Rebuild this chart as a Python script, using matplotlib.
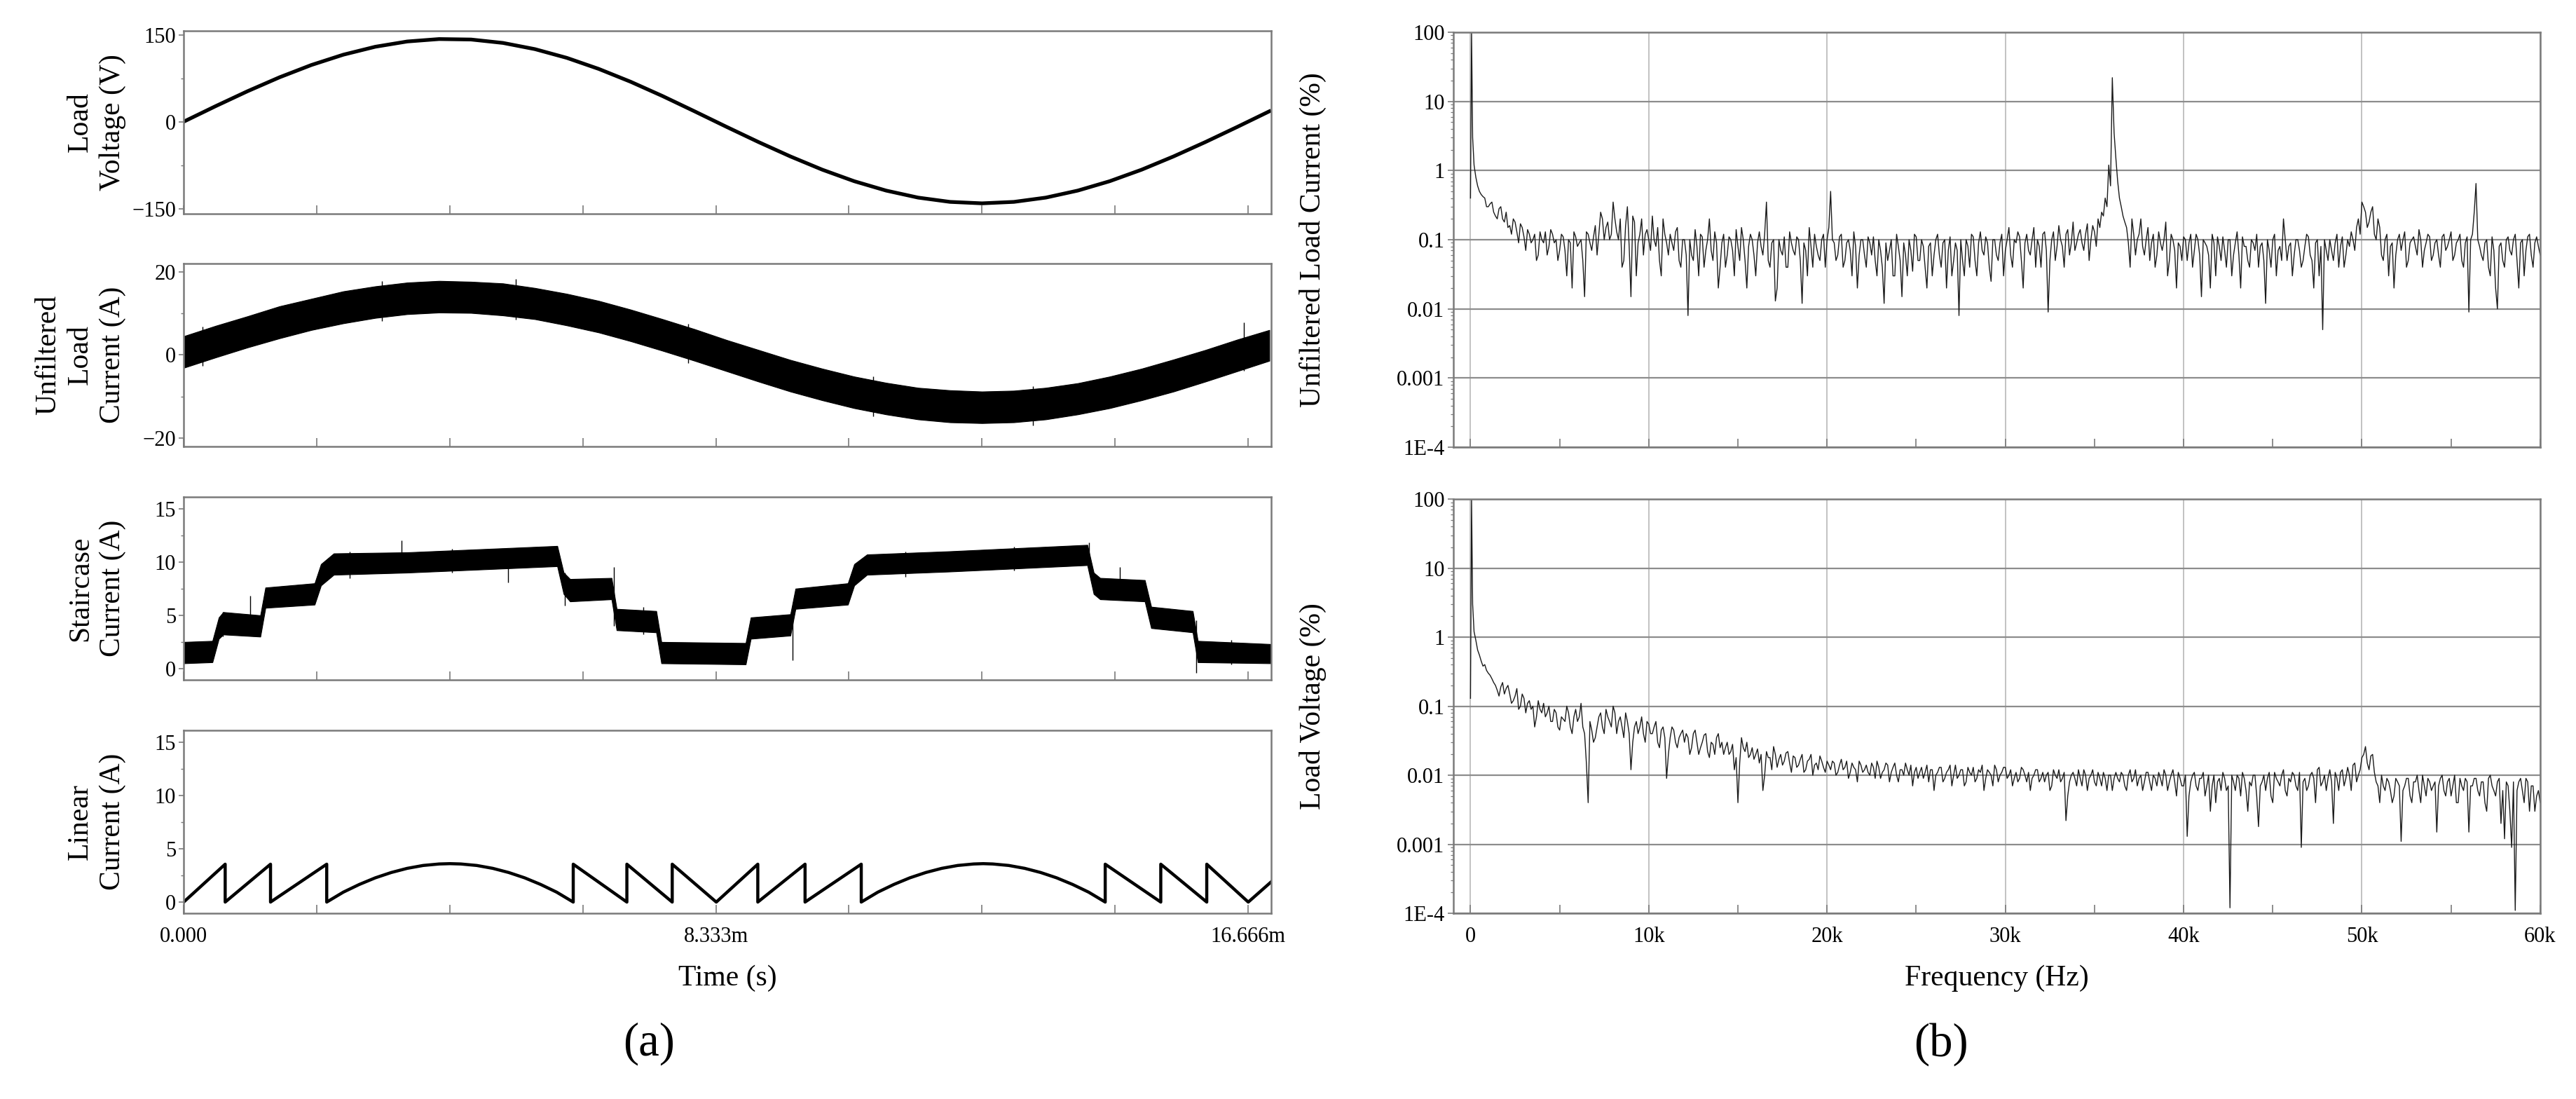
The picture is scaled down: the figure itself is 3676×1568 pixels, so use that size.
import numpy as np
import matplotlib
matplotlib.use("Agg")
import matplotlib.pyplot as plt
from matplotlib.ticker import FixedLocator, NullFormatter, FixedFormatter, LogLocator, MultipleLocator

plt.rcParams['font.family'] = ['Liberation Serif', 'DejaVu Serif']

# ---------------- time-domain data (ms) ----------------
t_wave = np.arange(0, 17.01, 0.5)
load_voltage = [0, 26.8, 52.6, 76.6, 97.9, 115.7, 129.4, 138.5, 142.7, 141.9, 136.0, 125.3,
                110.2, 91.1, 68.9, 44.2, 17.9, -8.9, -35.1, -60.0, -82.9, -102.8, -119.0,
                -131.1, -138.5, -141.0, -138.5, -131.1, -119.0, -102.8, -82.9, -60.0, -35.1,
                -8.9, 17.9]
unf_current_hi = [4.5, 7.0, 9.3, 11.7, 13.5, 15.3, 16.5, 17.4, 17.8, 17.6, 17.2, 16.1, 14.7,
                  13.0, 10.9, 8.6, 6.2, 3.6, 1.2, -1.2, -3.3, -5.2, -6.7, -7.9, -8.5, -8.8,
                  -8.6, -7.9, -6.8, -5.2, -3.3, -1.1, 1.2, 3.7, 6.0]
unf_current_lo = [-3.1, -0.6, 1.8, 4.0, 6.0, 7.6, 8.9, 9.8, 10.2, 10.1, 9.5, 8.6, 7.1, 5.4,
                  3.3, 1.0, -1.4, -3.9, -6.4, -8.8, -10.9, -12.8, -14.3, -15.5, -16.2, -16.4,
                  -16.2, -15.5, -14.3, -12.8, -10.9, -8.8, -6.4, -3.9, -1.4]
unf_spike_t = [0.3, 3.1, 5.2, 7.9, 10.8, 13.3, 16.6]
unf_spike_lo = [-2.6, 8.2, 8.5, -2.0, -14.8, -16.9, -3.8]
unf_spike_hi = [6.8, 17.8, 18.2, 7.5, -5.2, -7.5, 7.8]

t_stair = [0, 0.45, 0.55, 0.62, 1.20, 1.28, 2.05, 2.15, 2.35, 3.50, 5.85, 5.95, 6.05, 6.70,
           6.78, 7.40, 7.48, 8.80, 8.88, 9.50, 9.58, 10.40, 10.50, 10.70, 12.00, 14.15, 14.25,
           14.35, 15.05, 15.15, 15.80, 15.88, 17.03]
stair_hi = [2.5, 2.6, 4.8, 5.3, 5.0, 7.6, 8.0, 9.8, 10.8, 10.9, 11.5, 9.0, 8.4, 8.5, 5.6, 5.4,
            2.5, 2.4, 4.8, 5.1, 7.5, 8.0, 9.8, 10.7, 11.0, 11.6, 9.0, 8.5, 8.3, 5.8, 5.4, 2.6, 2.3]
stair_lo = [0.5, 0.6, 2.8, 3.2, 3.0, 5.7, 6.0, 7.8, 8.8, 9.0, 9.6, 7.0, 6.3, 6.5, 3.6, 3.4,
            0.5, 0.4, 2.8, 3.1, 5.6, 6.0, 7.8, 8.8, 9.1, 9.7, 7.0, 6.5, 6.3, 3.8, 3.4, 0.6, 0.5]
spike_t = [0.61, 1.04, 2.6, 3.41, 4.2, 5.08, 5.97, 6.74, 7.2, 9.53, 11.3, 13.0, 14.18, 14.66, 15.86, 16.4]
spike_lo = [3.0, 3.2, 8.5, 9.0, 9.0, 8.1, 5.9, 4.0, 3.2, 0.8, 8.6, 9.2, 9.5, 6.5, -0.4, 0.4]
spike_hi = [5.3, 6.8, 11.0, 12.0, 11.2, 11.0, 9.0, 9.5, 5.8, 4.5, 11.0, 11.4, 11.8, 9.5, 4.5, 2.7]

t_linear = [0, 0.65, 0.65, 1.36, 1.36, 2.24, 2.24,
            2.50, 2.75, 3.00, 3.25, 3.50, 3.75, 4.00, 4.17, 4.34, 4.59, 4.84, 5.09, 5.34, 5.59, 5.84,
            6.10, 6.10, 6.94, 6.94, 7.65, 7.65, 8.34,
            8.99, 8.99, 9.73, 9.73, 10.61, 10.61,
            10.87, 11.12, 11.37, 11.62, 11.87, 12.12, 12.37, 12.52, 12.67, 12.92, 13.17, 13.42, 13.67, 13.92, 14.17,
            14.43, 14.43, 15.30, 15.30, 16.02, 16.02, 16.67, 17.03]
linear_current = [0, 3.55, 0, 3.55, 0, 3.55, 0,
                  0.93, 1.65, 2.27, 2.77, 3.16, 3.43, 3.57, 3.6, 3.57, 3.43, 3.16, 2.77, 2.27, 1.65, 0.93,
                  0, 3.55, 0, 3.55, 0, 3.55, 0,
                  3.55, 0, 3.55, 0, 3.55, 0,
                  0.93, 1.65, 2.27, 2.77, 3.16, 3.43, 3.57, 3.6, 3.57, 3.43, 3.16, 2.77, 2.27, 1.65, 0.93,
                  0, 3.55, 0, 3.55, 0, 3.55, 0, 1.9]

time_tick_labels = ['0.000', '', '', '', '8.333m', '', '', '', '16.666m']

# ---------------- spectra (% of fundamental) ----------------
freq_a = np.concatenate([[0, 60, 120], np.arange(200, 60001, 200)])
freq_b = np.arange(300, 60000, 200)
spec_current_a = [0.4, 100, 3.0,
    1.2, .6, .45, .4, .3, .35, .22, .28, .2, .25,
    .16, .2, .13, .17, .11, .14, .09, .12, .06, .1,
    .13, .08, .12, .1, .07, .11, .03, .09, .13, .08,
    .1, .015, .12, .07, .16, .12, .2, .15, .1, .35,
    .13, .2, .05, .3, .015, .18, .09, .2, .12, .1,
    .22, .08, .05, .2, .09, .12, .07, .15, .04, .1,
    .008, .06, .14, .03, .11, .07, .2, .05, .09, .04,
    .12, .06, .1, .03, .08, .15, .05, .08, .1, .03,
    .13, .06, .35, .04, .1, .02, .07, .11, .04, .09,
    .06, .1, .012, .07, .15, .04, .08, .05, .12, .1,
    .5, .09, .06, .12, .05, .1, .03, .08, .06, .1,
    .04, .09, .11, .03, .07, .012, .05, .1, .03, .08,
    .015, .06, .1, .035, .11, .05, .08, .02, .09, .06,
    .12, .04, .1, .07, .03, .09, .008, .05, .1, .04,
    .11, .03, .13, .06, .09, .025, .1, .05, .12, .07,
    .15, .04, .09, .11, .02, .12, .06, .15, .1, .04,
    .13, .009, .1, .05, .16, .08, .12, .06, .18, .09,
    .14, .07, .17, .1, .13, .2, .25, .4, 1.2, 22,
    1.5, .4, .22, .15, .04, .12, .1, .2, .06, .15,
    .09, .04, .13, .07, .18, .05, .1, .02, .08, .11,
    .05, .12, .07, .1, .015, .09, .06, .12, .03, .08,
    .11, .04, .1, .06, .13, .02, .08, .05, .1, .07,
    .04, .09, .012, .07, .1, .03, .08, .2, .05, .09,
    .06, .1, .04, .08, .11, .05, .09, .03, .005, .07,
    .1, .05, .12, .08, .04, .1, .13, .07, .2, .35,
    .25, .18, .3, .1, .15, .05, .12, .08, .02, .1,
    .07, .13, .05, .1, .08, .14, .04, .09, .11, .06,
    .1, .04, .12, .08, .13, .06, .1, .05, .09, .009,
    .12, .65, .08, .05, .1, .03, .07, .01, .09, .04,
    .11, .06, .12, .02, .1, .07, .12, .04, .11, .06]
spec_current_b = [
    .8, .5, .42, .3, .33, .25, .2, .3, .18, .15,
    .12, .18, .09, .15, .07, .12, .1, .05, .13, .09,
    .06, .14, .09, .05, .12, .07, .1, .02, .11, .09,
    .05, .13, .09, .11, .06, .25, .1, .18, .12, .2,
    .1, .04, .16, .08, .22, .03, .12, .06, .14, .07,
    .1, .15, .03, .12, .06, .09, .13, .05, .1, .06,
    .1, .05, .08, .12, .04, .1, .07, .13, .02, .09,
    .04, .11, .07, .14, .05, .1, .02, .12, .06, .09,
    .08, .12, .05, .09, .013, .1, .06, .04, .13, .07,
    .11, .05, .09, .03, .08, .12, .06, .1, .04, .15,
    .1, .05, .11, .04, .09, .07, .13, .02, .1, .06,
    .11, .06, .05, .1, .04, .09, .07, .03, .12, .05,
    .09, .03, .07, .12, .05, .1, .04, .08, .03, .1,
    .06, .09, .02, .11, .05, .07, .1, .03, .08, .12,
    .05, .09, .07, .11, .04, .1, .06, .09, .03, .1,
    .06, .1, .13, .05, .09, .07, .1, .04, .08, .12,
    .07, .05, .13, .08, .1, .04, .14, .09, .07, .12,
    .09, .12, .05, .16, .08, .15, .22, .3, .6, 3.5,
    .7, .3, .18, .09, .2, .06, .12, .08, .1, .05,
    .12, .06, .09, .1, .03, .12, .07, .09, .05, .1,
    .09, .04, .12, .06, .1, .08, .02, .09, .11, .05,
    .07, .1, .03, .09, .06, .11, .08, .04, .09, .12,
    .08, .05, .1, .04, .12, .07, .05, .1, .08, .03,
    .1, .07, .05, .12, .06, .02, .1, .08, .1, .05,
    .07, .09, .04, .11, .06, .08, .1, .15, .12, .3,
    .15, .25, .12, .2, .06, .1, .03, .09, .06, .12,
    .1, .04, .09, .11, .06, .1, .07, .12, .05, .09,
    .06, .11, .07, .1, .05, .09, .12, .04, .11, .1,
    .25, .1, .06, .09, .04, .11, .02, .08, .05, .1,
    .07, .1, .05, .09, .03, .11, .06, .09, .08]
spec_voltage_a = [0.13, 100, 3.0,
    1.2, .65, .45, .4, .3, .25, .2, .14, .22, .18,
    .15, .12, .18, .1, .13, .11, .09, .05, .12, .08,
    .07, .1, .06, .08, .045, .065, .1, .05, .07, .06,
    .11, .04, .004, .045, .035, .07, .05, .09, .06, .1,
    .04, .07, .035, .06, .012, .05, .04, .07, .03, .055,
    .04, .06, .025, .05, .009, .035, .045, .025, .04, .03,
    .035, .025, .045, .02, .03, .04, .018, .028, .035, .025,
    .02, .03, .022, .012, .004, .035, .022, .018, .025, .02,
    .015, .006, .022, .018, .026, .013, .02, .016, .022, .011,
    .018, .014, .02, .012, .017, .01, .015, .019, .013, .016,
    .012, .015, .011, .017, .013, .009, .015, .012, .016, .011,
    .014, .01, .013, .016, .009, .012, .014, .011, .015, .008,
    .012, .015, .01, .007, .013, .011, .009, .014, .012, .006,
    .011, .013, .009, .012, .007, .014, .01, .012, .008, .011,
    .013, .009, .011, .006, .012, .01, .014, .008, .011, .013,
    .01, .007, .011, .009, .012, .008, .006, .01, .012, .009,
    .008, .011, .007, .01, .012, .009, .0022, .008, .011, .007,
    .009, .012, .006, .01, .008, .011, .007, .009, .01, .006,
    .011, .008, .01, .006, .012, .009, .007, .01, .008, .011,
    .006, .009, .011, .007, .01, .008, .012, .005, .009, .007,
    .0013, .008, .011, .006, .009, .005, .01, .007, .004, .009,
    .011, .006, .00012, .008, .01, .005, .009, .003, .007, .01,
    .0018, .008, .006, .011, .004, .009, .007, .012, .005, .008,
    .01, .006, .0009, .009, .007, .011, .004, .013, .008, .006,
    .012, .002, .009, .011, .007, .013, .006, .015, .01, .018,
    .026, .012, .02, .008, .004, .007, .009, .006, .005, .008,
    .0011, .007, .009, .004, .008, .006, .01, .005, .008, .007,
    .0015, .009, .006, .008, .005, .01, .004, .007, .009, .0015,
    .007, .009, .005, .008, .003, .01, .006, .008, .002, .0012,
    .007, .0009, .00011, .008, .006, .009, .003, .007, .005, .004]
spec_voltage_b = [
    .9, .55, .38, .33, .28, .22, .17, .19, .15, .2,
    .11, .14, .09, .15, .08, .12, .1, .07, .09, .11,
    .08, .06, .09, .05, .07, .06, .08, .04, .09, .07,
    .05, .015, .06, .03, .05, .08, .04, .07, .05, .08,
    .06, .05, .08, .04, .03, .06, .05, .04, .06, .04,
    .05, .03, .045, .035, .02, .05, .03, .035, .045, .04,
    .02, .04, .03, .025, .038, .022, .03, .02, .04, .03,
    .025, .02, .028, .018, .015, .025, .03, .02, .017, .024,
    .02, .01, .018, .012, .02, .017, .014, .021, .015, .019,
    .013, .017, .011, .016, .02, .014, .012, .016, .011, .014,
    .016, .01, .014, .012, .016, .011, .013, .008, .014, .012,
    .011, .015, .009, .013, .011, .015, .008, .013, .01, .012,
    .01, .012, .014, .011, .009, .013, .011, .008, .012, .01,
    .013, .008, .011, .014, .01, .009, .012, .007, .013, .01,
    .008, .012, .014, .009, .011, .007, .012, .01, .013, .009,
    .012, .009, .008, .013, .01, .011, .009, .012, .008, .011,
    .01, .006, .012, .009, .008, .011, .005, .01, .009, .012,
    .007, .01, .009, .012, .007, .009, .011, .006, .01, .009,
    .009, .011, .007, .01, .008, .012, .009, .006, .011, .008,
    .01, .007, .009, .012, .006, .01, .008, .011, .007, .01,
    .005, .01, .007, .009, .011, .007, .003, .01, .008, .006,
    .009, .007, .01, .006, .009, .011, .006, .008, .01, .005,
    .007, .01, .009, .005, .011, .008, .01, .006, .009, .011,
    .007, .011, .008, .006, .01, .009, .012, .007, .01, .009,
    .008, .011, .006, .012, .009, .01, .014, .008, .012, .02,
    .015, .019, .011, .007, .01, .006, .008, .004, .009, .007,
    .006, .009, .005, .008, .01, .004, .007, .009, .006, .008,
    .007, .01, .005, .009, .007, .004, .009, .006, .008, .007,
    .009, .006, .008, .004, .009, .007, .005, .009, .006, .008,
    .003, .008, .006, .009, .004, .008, .007, .003, .006]

freq_ticks = [0, 10000, 20000, 30000, 40000, 50000, 60000]
freq_labels = ['0', '10k', '20k', '30k', '40k', '50k', '60k']
log_ticks = [1e-4, 1e-3, 1e-2, 1e-1, 1, 10, 100]
log_labels = ['1E-4', '0.001', '0.01', '0.1', '1', '10', '100']

# ---------------- figure ----------------
W, H = 3676, 1568
fig = plt.figure(figsize=(W / 100, H / 100), dpi=100)

SPINE = '#7a7a7a'
TICK_FS = 22
LAB_FS = 30

def style_spines(ax):
    for s in ax.spines.values():
        s.set_color(SPINE)
        s.set_linewidth(1.8)

left_x, left_w, ph = 0.0713, 0.4222, 0.1665
bottoms = [0.8055, 0.5938, 0.3814, 0.169]
ylims = [(-159, 157), (-22, 22), (-1.05, 16.1), (-1.05, 16.1)]
ymaj = [[-150, 0, 150], [-20, 0, 20], [0, 5, 10, 15], [0, 5, 10, 15]]
ymin_t = [[-75, 75], [-10, 10], [2.5, 7.5, 12.5], [2.5, 7.5, 12.5]]
ylabels = ['Load\nVoltage (V)', 'Unfiltered\nLoad\nCurrent (A)', 'Staircase\nCurrent (A)',
           'Linear\nCurrent (A)']
time_ticks = [i * 16.666 / 8 for i in range(9)]

axes_l = []
for i in range(4):
    ax = fig.add_axes([left_x, bottoms[i], left_w, ph])
    axes_l.append(ax)
    ax.set_xlim(0, 17.03)
    ax.set_ylim(*ylims[i])
    ax.yaxis.set_major_locator(FixedLocator(ymaj[i]))
    ax.yaxis.set_minor_locator(FixedLocator(ymin_t[i]))
    ax.xaxis.set_major_locator(FixedLocator(time_ticks))
    if i == 3:
        ax.xaxis.set_major_formatter(FixedFormatter(time_tick_labels))
    else:
        ax.xaxis.set_major_formatter(NullFormatter())
    ax.tick_params(axis='x', direction='in', length=9, width=1.2, color=SPINE,
                   labelsize=TICK_FS, pad=14)
    ax.tick_params(axis='y', which='major', direction='out', length=5, width=1.2,
                   color=SPINE, labelsize=TICK_FS, pad=3)
    ax.tick_params(axis='y', which='minor', direction='out', length=3, width=1.0, color=SPINE)
    style_spines(ax)
    ax.set_ylabel(ylabels[i], fontsize=LAB_FS, linespacing=1.25, multialignment='center')
    ax.yaxis.set_label_coords(-0.053, 0.5)

axes_l[0].plot(t_wave, load_voltage, color='black', lw=3.8, solid_joinstyle='round')
axes_l[1].fill_between(t_wave, unf_current_lo, unf_current_hi, color='black', lw=0.8)
axes_l[1].vlines(unf_spike_t, unf_spike_lo, unf_spike_hi, color='black', lw=1.0)
axes_l[2].fill_between(t_stair, stair_lo, stair_hi, color='black', lw=0.8)
axes_l[2].vlines(spike_t, spike_lo, spike_hi, color='black', lw=1.0)
axes_l[3].plot(t_linear, linear_current, color='black', lw=3.2, solid_joinstyle='round')
axes_l[3].set_xlabel('Time (s)', fontsize=LAB_FS, labelpad=18)

# ---------------- spectra ----------------
right_x, right_w = 0.5642, 0.4219
pos_r = [[right_x, 0.5931, right_w, 0.3776], [right_x, 0.169, right_w, 0.3769]]
spec_sets = [(spec_current_a, spec_current_b), (spec_voltage_a, spec_voltage_b)]
spec_labels = ['Unfiltered Load Current (%)', 'Load Voltage (%)']
for i in range(2):
    ax = fig.add_axes(pos_r[i])
    f_all = np.concatenate([freq_a, freq_b])
    v_all = np.concatenate([spec_sets[i][0], spec_sets[i][1]])
    order = np.argsort(f_all, kind='stable')
    ax.plot(f_all[order], v_all[order], color='#1a1a1a', lw=1.0)
    ax.set_yscale('log')
    ax.set_ylim(1e-4, 100)
    ax.set_xlim(-960, 60000)
    ax.yaxis.set_major_locator(FixedLocator(log_ticks))
    ax.yaxis.set_major_formatter(FixedFormatter(log_labels))
    ax.yaxis.set_minor_locator(LogLocator(base=10, subs=np.arange(2, 10), numticks=20))
    ax.yaxis.set_minor_formatter(NullFormatter())
    ax.xaxis.set_major_locator(FixedLocator(freq_ticks))
    ax.xaxis.set_minor_locator(MultipleLocator(5000))
    if i == 1:
        ax.xaxis.set_major_formatter(FixedFormatter(freq_labels))
        ax.set_xlabel('Frequency (Hz)', fontsize=LAB_FS, labelpad=18)
    else:
        ax.xaxis.set_major_formatter(NullFormatter())
    ax.yaxis.grid(True, which='major', color='#8c8c8c', lw=1.6)
    ax.xaxis.grid(True, which='major', color='#bdbdbd', lw=1.3)
    ax.set_axisbelow(True)
    ax.tick_params(axis='x', which='both', direction='in', length=9, width=1.2, color=SPINE,
                   labelsize=TICK_FS, pad=14)
    ax.tick_params(axis='y', which='major', direction='out', length=6, width=1.2, color=SPINE,
                   labelsize=TICK_FS, pad=3)
    ax.tick_params(axis='y', which='minor', direction='out', length=3, width=0.9, color=SPINE)
    style_spines(ax)
    ax.set_ylabel(spec_labels[i], fontsize=LAB_FS)
    ax.yaxis.set_label_coords(-0.117, 0.5)

fig.text(0.252, 0.05, '(a)', fontsize=48, ha='center', va='center')
fig.text(0.7535, 0.05, '(b)', fontsize=48, ha='center', va='center')

fig.savefig('out.png', dpi=100)
